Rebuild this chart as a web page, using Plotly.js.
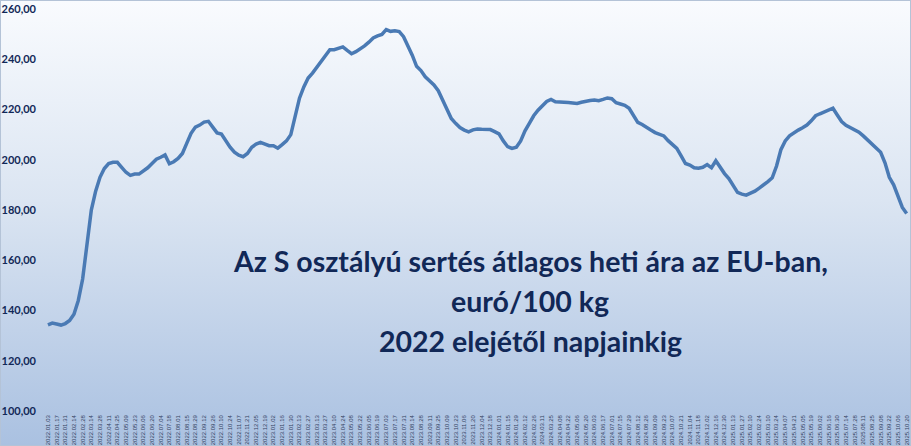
<!DOCTYPE html>
<html>
<head>
<meta charset="utf-8">
<script src="https://cdn.plot.ly/plotly-3.0.1.min.js"></script>
<style>
  html, body { margin: 0; padding: 0; }
  #chart {
    width: 911px;
    height: 446px;
    box-sizing: border-box;
    border: 1px solid #b4c3d7;
    background: linear-gradient(to bottom, #f9fbfe 0%, #dbe5f2 45%, #aac1e1 100%);
  }
</style>
</head>
<body>
<div id="chart"></div>
<script>
// weekly average price of class S pigs in the EU, euro/100 kg
const firstWeek = "2022-01-03";
const prices = [
  134.3, 135.0, 134.6, 134.2, 134.8, 136.0, 138.5, 144.0, 152.5, 166.0,
  180.0, 187.5, 193.0, 196.5, 198.5, 199.0, 199.0, 197.0, 195.0, 193.8,
  194.3, 194.3, 195.5, 196.8, 198.5, 200.2, 201.0, 201.9, 198.4, 199.2,
  200.5, 202.5, 206.5, 210.5, 213.0, 213.8, 215.0, 215.3, 213.0, 210.7,
  210.2, 207.5, 205.0, 203.0, 201.8, 201.2, 202.5, 205.0, 206.2, 206.9,
  206.2, 205.6, 205.6, 204.6, 206.0, 207.5, 210.0, 217.5, 224.5, 229.0,
  232.5, 234.5, 236.8, 239.0, 241.5, 243.8, 243.8, 244.3, 244.9, 243.5,
  242.2, 243.0, 244.0, 245.3, 246.8, 248.5, 249.3, 249.9, 251.8, 251.1,
  251.3, 251.0, 249.0, 245.5, 241.6, 237.2, 235.5, 233.0, 231.6, 229.8,
  227.5, 224.0, 220.0, 216.4, 214.5, 212.8, 211.8, 211.1, 211.9, 212.2,
  212.1, 212.0, 212.0, 211.2, 210.3, 207.5, 205.2, 204.5, 205.0, 207.5,
  211.5, 214.5, 217.5, 219.7, 221.5, 223.2, 224.0, 223.1, 223.0, 223.0,
  222.8, 222.6, 222.4, 222.9, 223.4, 223.6, 223.8, 223.5, 224.0, 224.6,
  224.3, 222.7, 222.2, 221.7, 220.5, 217.5, 214.9, 214.0, 213.1, 211.8,
  210.8, 210.1, 209.5, 207.6, 206.0, 204.5, 201.5, 198.5, 197.9, 196.8,
  196.6, 197.0, 198.1, 196.8, 199.6, 197.0, 194.5, 192.5, 189.5, 187.0,
  186.3, 185.9, 186.7, 187.5, 188.7, 189.9, 191.3, 192.8, 197.5, 204.0,
  207.5, 209.5, 210.8, 211.8, 212.7, 213.8, 215.5, 217.5, 218.3, 219.0,
  219.8, 220.5, 217.8, 215.2, 213.7, 212.8, 211.9, 211.0, 209.5, 207.8,
  206.2, 204.5, 203.0, 198.8, 193.0, 190.0, 185.5, 181.0, 178.6
];
const yTicks = [100, 120, 140, 160, 180, 200, 220, 240, 260];
const titleLines = [
  "Az S osztályú sertés átlagos heti ára az EU-ban,",
  "euró/100 kg",
  "2022 elejétől napjainkig"
];

// one Monday per price, labelled like 2022.01.03
function weekLabels(start, n) {
  const out = [];
  const d = new Date(start + "T00:00:00Z");
  for (let i = 0; i < n; i++) {
    const y = d.getUTCFullYear();
    const m = String(d.getUTCMonth() + 1).padStart(2, "0");
    const day = String(d.getUTCDate()).padStart(2, "0");
    out.push(y + "." + m + "." + day);
    d.setUTCDate(d.getUTCDate() + 7);
  }
  return out;
}

const weeks = weekLabels(firstWeek, prices.length);
const tickWeeks = weeks.filter((w, i) => i % 2 === 0);

const trace = {
  x: weeks,
  y: prices,
  type: "scatter",
  mode: "lines",
  line: { color: "#4a7ab4", width: 3.5 },
  hoverinfo: "x+y"
};

const navy = "#112857";
const titleY = [0.372, 0.273, 0.174];

const layout = {
  width: 911,
  height: 446,
  margin: { l: 40, r: 1, t: 8, b: 36 },
  paper_bgcolor: "rgba(0,0,0,0)",
  plot_bgcolor: "rgba(0,0,0,0)",
  separators: ", ",
  showlegend: false,
  xaxis: {
    type: "category",
    range: [-1.6, 199],
    tickvals: tickWeeks,
    ticktext: tickWeeks,
    tickangle: -90,
    tickfont: { family: "Liberation Sans, Arial", size: 6, color: "#34425f" },
    ticks: "",
    ticklabelstandoff: 2,
    showgrid: false,
    showline: false,
    zeroline: false
  },
  yaxis: {
    range: [100, 260],
    tickvals: yTicks,
    tickformat: ".2f",
    tickfont: { family: "Lato", size: 11, color: navy, weight: 700 },
    ticks: "",
    ticklabelstandoff: 4,
    showgrid: false,
    showline: false,
    zeroline: false
  },
  annotations: titleLines.map((t, i) => ({
    text: t,
    xref: "paper",
    yref: "paper",
    x: 0.5626,
    y: titleY[i],
    xanchor: "center",
    yanchor: "middle",
    showarrow: false,
    font: { family: "Lato", size: 28.5, color: navy, weight: 700 }
  }))
};

Plotly.newPlot("chart", [trace], layout, { displayModeBar: false, staticPlot: true });
</script>
</body>
</html>
